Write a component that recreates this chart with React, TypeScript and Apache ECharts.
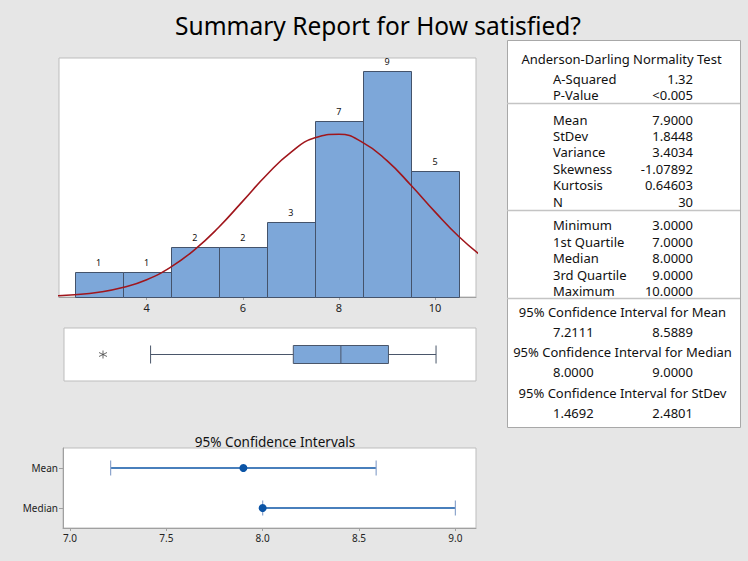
import React, { useEffect, useRef } from "react";
import * as echarts from "echarts";

// ---------- data ----------
const titleText = "Summary Report for How satisfied?";
const binStarts = [2.5, 3.5, 4.5, 5.5, 6.5, 7.5, 8.5, 9.5];
const binEnds = [3.5, 4.5, 5.5, 6.5, 7.5, 8.5, 9.5, 10.5];
const binCounts = [1, 1, 2, 2, 3, 7, 9, 5];
const histTicks = [4, 6, 8, 10];

// fitted normal curve
const curveX = [2.0, 2.5, 3.0, 3.5, 4.0, 4.5, 5.0, 5.5, 6.0, 6.5, 7.0, 7.5, 8.0, 8.5, 9.0, 9.5, 10.0, 10.5, 11.0];
const curveY = [0.04, 0.09, 0.19, 0.38, 0.69, 1.19, 1.89, 2.78, 3.82, 4.87, 5.76, 6.34, 6.48, 6.15, 5.43, 4.45, 3.39, 2.4, 1.58];

const boxStats = [4, 7, 8, 9, 10]; // whisker low, Q1, median, Q3, whisker high
const outliers = [3];

const ciTitle = "95% Confidence Intervals";
const ciCategories = ["Median", "Mean"];
const ciLow = [8.0, 7.2111];
const ciHigh = [9.0, 8.5889];
const ciEst = [8.0, 7.9];
const ciTicks = [7.0, 7.5, 8.0, 8.5, 9.0];

const adHeader = "Anderson-Darling Normality Test";
const adLabels = ["A-Squared", "P-Value"];
const adValues = ["1.32", "<0.005"];
const momentLabels = ["Mean", "StDev", "Variance", "Skewness", "Kurtosis", "N"];
const momentValues = ["7.9000", "1.8448", "3.4034", "-1.07892", "0.64603", "30"];
const quantLabels = ["Minimum", "1st Quartile", "Median", "3rd Quartile", "Maximum"];
const quantValues = ["3.0000", "7.0000", "8.0000", "9.0000", "10.0000"];
const ciHeaders = [
  "95% Confidence Interval for Mean",
  "95% Confidence Interval for Median",
  "95% Confidence Interval for StDev",
];
const ciTableLow = ["7.2111", "8.0000", "1.4692"];
const ciTableHigh = ["8.5889", "9.0000", "2.4801"];

// ---------- styling ----------
const FONT = "'Noto Sans', 'Open Sans', sans-serif";
const BG = "#E6E6E6";
const PANEL_BORDER = "#BDBDBD";
const BAR_FILL = "#7DA7D9";
const BAR_EDGE = "#44536B";
const CURVE = "#A0161C";
const CI_BLUE = "#0B54A6";
const CI_CAP = "#8DA5CC";
const TEXT = "#111";

function buildTableGraphics() {
  const els: any[] = [];
  const L = 507, T = 40, W = 233, H = 387;
  const labelX = 553, valueX = 693, cx = L + W / 2;
  const fs = 13;
  els.push({
    type: "rect", z: 0,
    shape: { x: L + 0.5, y: T + 0.5, width: W, height: H },
    style: { fill: "#fff", stroke: "#A8A8A8", lineWidth: 1 },
  });
  [103.5, 210.5, 298.5].forEach((y) =>
    els.push({
      type: "line", z: 1,
      shape: { x1: L, y1: y, x2: L + W, y2: y },
      style: { stroke: "#C4C4C4", lineWidth: 1.5 },
    })
  );
  const txt = (text: string, x: number, y: number, align: string) =>
    els.push({
      type: "text", z: 2, x, y,
      style: { text, fill: TEXT, font: `${fs}px ${FONT}`, lineHeight: 14, align, verticalAlign: "middle" },
    });
  txt(adHeader, cx - 2, 58.5, "center");
  adLabels.forEach((l, i) => {
    txt(l, labelX, 78.5 + i * 16.6, "left");
    txt(adValues[i], valueX, 78.5 + i * 16.6, "right");
  });
  momentLabels.forEach((l, i) => {
    txt(l, labelX, 119.5 + i * 16.45, "left");
    txt(momentValues[i], valueX, 119.5 + i * 16.45, "right");
  });
  quantLabels.forEach((l, i) => {
    txt(l, labelX, 225.2 + i * 16.5, "left");
    txt(quantValues[i], valueX, 225.2 + i * 16.5, "right");
  });
  ciHeaders.forEach((h, i) => {
    const y = 311.7 + i * 40.5;
    txt(h, cx - 1, y, "center");
    txt(ciTableLow[i], labelX, y + 20, "left");
    txt(ciTableHigh[i], valueX, y + 20, "right");
  });
  return els;
}

export default function App() {
  const ref = useRef<HTMLDivElement>(null);
  useEffect(() => {
    if (!ref.current) return;
    const chart = echarts.init(ref.current, undefined, { renderer: "svg" });

    const histData = binCounts.map((c, i) => [binStarts[i], binEnds[i], c]);
    const curveData = curveX.map((x, i) => [x, curveY[i]]);
    const ciData = ciCategories.map((_, i) => [ciLow[i], ciHigh[i], ciEst[i], i]);

    const option: any = {
      animation: false,
      backgroundColor: BG,
      textStyle: { fontFamily: FONT },
      title: [
        {
          text: titleText, left: 373, top: 8, textAlign: "center",
          textStyle: { fontSize: 24.5, fontWeight: "normal", color: "#000", fontFamily: FONT },
        },
        {
          text: ciTitle, left: 270, top: 430, textAlign: "center",
          textStyle: { fontSize: 13.5, fontWeight: "normal", color: "#111", fontFamily: FONT },
        },
      ],
      grid: [
        { left: 59, top: 58, width: 417, height: 239, show: true, backgroundColor: "#fff", borderColor: PANEL_BORDER, borderWidth: 1 },
        { left: 64, top: 328, width: 412, height: 53, show: true, backgroundColor: "#fff", borderColor: PANEL_BORDER, borderWidth: 1 },
        { left: 63, top: 448, width: 413, height: 80, show: true, backgroundColor: "#fff", borderColor: PANEL_BORDER, borderWidth: 1 },
      ],
      xAxis: [
        {
          type: "value", gridIndex: 0, min: 2.175, max: 10.853,
          splitLine: { show: false },
          axisLine: { show: true, lineStyle: { color: "#A0A0A0" } },
          axisTick: { show: true, length: 3, lineStyle: { color: "#A0A0A0" }, customValues: histTicks },
          axisLabel: { color: "#222", fontSize: 11, margin: 5, customValues: histTicks, fontFamily: FONT },
        },
        {
          type: "value", gridIndex: 1, min: 2.18, max: 10.84, show: false,
          splitLine: { show: false },
        },
        {
          type: "value", gridIndex: 2, min: 6.964, max: 9.107,
          splitLine: { show: false },
          axisLine: { show: true, lineStyle: { color: "#A0A0A0" } },
          axisTick: { show: true, length: 3, lineStyle: { color: "#A0A0A0" }, customValues: ciTicks },
          axisLabel: {
            color: "#222", fontSize: 10, margin: 5, customValues: ciTicks, fontFamily: FONT,
            formatter: (v: number) => v.toFixed(1),
          },
        },
      ],
      yAxis: [
        { type: "value", gridIndex: 0, min: 0, max: 9.52, show: false, splitLine: { show: false } },
        { type: "category", gridIndex: 1, data: ["box"], show: false },
        {
          type: "category", gridIndex: 2, data: ciCategories,
          axisLine: { show: true, lineStyle: { color: "#A0A0A0" } },
          axisTick: { show: true, alignWithLabel: true, length: 4, lineStyle: { color: "#A0A0A0" } },
          axisLabel: { color: "#222", fontSize: 10, margin: 5, fontFamily: FONT },
          splitLine: { show: false },
        },
      ],
      series: [
        {
          type: "custom", xAxisIndex: 0, yAxisIndex: 0, data: histData, z: 2,
          renderItem: (params: any, api: any) => {
            const x0 = api.value(0), x1 = api.value(1), c = api.value(2);
            const p0 = api.coord([x0, c]);
            const p1 = api.coord([x1, 0]);
            return {
              type: "group",
              children: [
                {
                  type: "rect",
                  shape: { x: Math.round(p0[0]) + 0.5, y: Math.round(p0[1]) + 0.5, width: Math.round(p1[0]) - Math.round(p0[0]), height: Math.round(p1[1]) - Math.round(p0[1]) },
                  style: { fill: BAR_FILL, stroke: BAR_EDGE, lineWidth: 1 },
                },
                {
                  type: "text",
                  x: (p0[0] + p1[0]) / 2, y: p0[1] - 5,
                  style: { text: String(c), fill: "#111", font: `9px ${FONT}`, align: "center", verticalAlign: "bottom" },
                },
              ],
            };
          },
        },
        {
          type: "line", xAxisIndex: 0, yAxisIndex: 0, data: curveData, smooth: true,
          showSymbol: false, symbol: "none", clip: true, z: 3,
          lineStyle: { color: CURVE, width: 1.6 },
        },
        {
          type: "boxplot", xAxisIndex: 1, yAxisIndex: 1, data: [boxStats],
          boxWidth: [18, 18], layout: "horizontal",
          itemStyle: { color: BAR_FILL, borderColor: "#4A566A", borderWidth: 1 },
        },
        {
          type: "scatter", xAxisIndex: 1, yAxisIndex: 1,
          data: outliers.map((v) => [v, 0]),
          symbol: "path://M0,-5L0,5M-4.33,-2.5L4.33,2.5M-4.33,2.5L4.33,-2.5",
          symbolSize: 8,
          itemStyle: { color: "none", borderColor: "#444", borderWidth: 1 },
        },
        {
          type: "custom", xAxisIndex: 2, yAxisIndex: 2, data: ciData, z: 3,
          renderItem: (params: any, api: any) => {
            const lo = api.value(0), hi = api.value(1), est = api.value(2), idx = api.value(3);
            const a = api.coord([lo, idx]);
            const b = api.coord([hi, idx]);
            const e = api.coord([est, idx]);
            const y = a[1];
            return {
              type: "group",
              children: [
                { type: "line", shape: { x1: a[0], y1: y, x2: b[0], y2: y }, style: { stroke: CI_BLUE, lineWidth: 1.5 } },
                { type: "line", shape: { x1: a[0], y1: y - 7.5, x2: a[0], y2: y + 7.5 }, style: { stroke: CI_CAP, lineWidth: 1.2 } },
                { type: "line", shape: { x1: b[0], y1: y - 7.5, x2: b[0], y2: y + 7.5 }, style: { stroke: CI_CAP, lineWidth: 1.2 } },
                { type: "circle", shape: { cx: e[0], cy: y, r: 4 }, style: { fill: CI_BLUE } },
              ],
            };
          },
        },
      ],
      graphic: buildTableGraphics(),
    };
    chart.setOption(option);
    return () => chart.dispose();
  }, []);
  return <div ref={ref} style={{ position: "absolute", left: 0, top: 0, width: 748, height: 561 }} />;
}
